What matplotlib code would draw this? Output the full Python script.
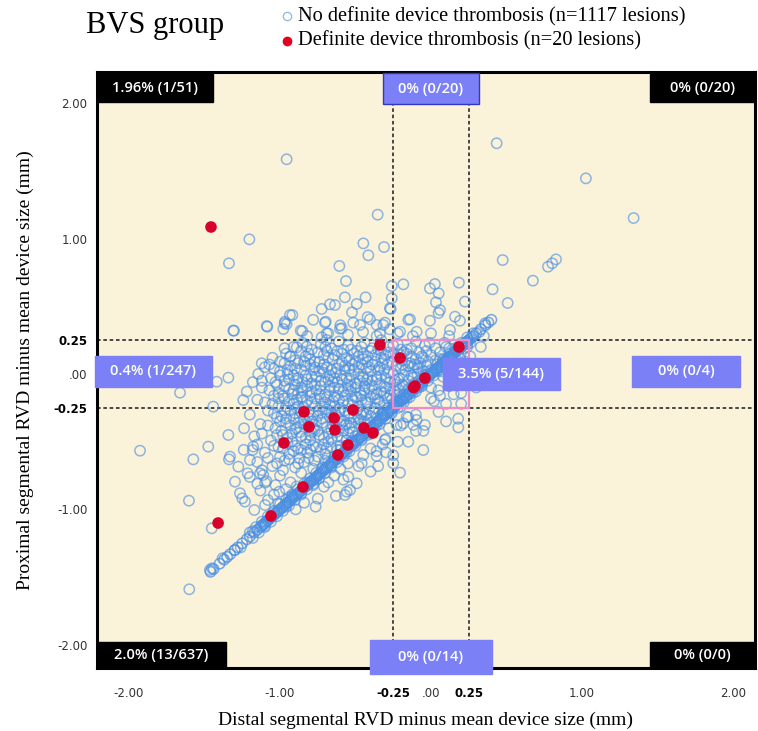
import matplotlib
matplotlib.use("Agg")
import matplotlib.pyplot as plt
from matplotlib.patches import Rectangle
from matplotlib.lines import Line2D

# ---- data (mm) ----
# lesions with definite device thrombosis
red_x = [-1.457, -0.338, -0.205, 0.185, -0.040, -0.106, -0.115, -0.841, -0.642, -0.517,
         -0.808, -0.636, -0.444, -0.384, -0.974, -0.550, -0.616, -0.848, -1.060, -1.410]
red_y = [1.085, 0.214, 0.118, 0.199, -0.030, -0.089, -0.100, -0.280, -0.325, -0.266,
         -0.390, -0.413, -0.398, -0.435, -0.509, -0.524, -0.598, -0.834, -1.048, -1.100]

# lesions where proximal and distal values are the same (the diagonal band)
diag_vals = [-1.46, -1.44, -1.40, -1.37, -1.35, -1.33, -1.30, -1.28, -1.25, -1.22,
             -1.20, -1.17, -1.15, -1.13, -1.11, -1.09, -1.07, -1.05, -1.03, -1.01,
             -0.99, -0.97, -0.95, -0.93, -0.91, -0.89, -0.87, -0.85, -0.83, -0.81,
             -0.79, -0.77, -0.75, -0.73, -0.71, -0.69, -0.67, -0.65, -0.63, -0.61,
             -0.59, -0.57, -0.55, -0.53, -0.51, -0.49, -0.47, -0.45, -0.43, -0.41,
             -0.39, -0.37, -0.35, -0.33, -0.31, -0.29, -0.27, -0.25, -0.23, -0.21,
             -0.19, -0.17, -0.15, -0.13, -0.11, -0.09, -0.07, -0.05, -0.03, -0.01,
             0.01, 0.03, 0.05, 0.07, 0.09, 0.11, 0.13, 0.15, 0.17, 0.19,
             0.21, 0.23, 0.25, 0.27, 0.30, 0.33, 0.36, 0.38, 0.40,
             -1.12, -1.10, -1.08, -1.06, -1.04, -1.02, -1.00, -0.98, -0.96, -0.94,
             -0.92, -0.90, -0.88, -0.86, -0.84, -0.82, -0.80, -0.78, -0.76, -0.74,
             -0.72, -0.70, -0.68, -0.66, -0.64, -0.62, -0.60, -0.58, -0.56, -0.54,
             -0.52, -0.50, -0.48, -0.46, -0.44, -0.42, -0.40, -0.38, -0.36, -0.34,
             -0.32, -0.30, -0.28, -0.26, -0.24, -0.22, -0.20, -0.18, -0.16, -0.14,
             -0.12, -0.10, -0.08, -0.06, -0.04, -0.02, 0.00, 0.02, 0.04, 0.06,
             0.08, 0.10, 0.12, 0.14, 0.16, 0.18, 0.20, 0.22, 0.24, 0.26, 0.28]

# lesions sitting just off the diagonal (they make the band look solid)
near_diag_pts = [
    (-1.38, -1.36), (-1.26, -1.28), (-1.18, -1.16), (-1.10, -1.12), (-1.04, -1.02),
    (-0.96, -0.98), (-0.92, -0.90), (-0.86, -0.88), (-0.82, -0.80), (-0.76, -0.78),
    (-0.72, -0.70), (-0.66, -0.68), (-0.62, -0.60), (-0.56, -0.58), (-0.52, -0.50),
    (-0.46, -0.48), (-0.42, -0.40), (-0.36, -0.38), (-0.32, -0.30), (-0.26, -0.28),
    (-0.22, -0.20), (-0.16, -0.18), (-0.12, -0.10), (-0.06, -0.08), (-0.02, 0.00),
    (0.04, 0.02), (0.08, 0.10), (0.14, 0.12), (0.18, 0.20), (0.24, 0.22),
    (0.28, 0.30), (0.32, 0.31),
    (-1.00, -0.96), (-0.80, -0.77), (-0.60, -0.56), (-0.40, -0.36), (-0.20, -0.17),
    (0.00, 0.03), (-0.90, -0.93), (-0.70, -0.73), (-0.50, -0.53), (-0.30, -0.33),
    (-0.10, -0.13), (0.10, 0.07),
    (-1.20, -1.17), (-1.16, -1.13), (-1.12, -1.09), (-1.08, -1.05), (-1.04, -1.01),
    (-0.96, -0.93), (-0.92, -0.89), (-0.88, -0.85), (-0.84, -0.81), (-0.76, -0.73),
    (-0.72, -0.69), (-0.68, -0.65), (-0.64, -0.61), (-0.56, -0.53), (-0.52, -0.49),
    (-0.48, -0.45), (-0.44, -0.41), (-0.36, -0.33), (-0.32, -0.29), (-0.28, -0.25),
    (-0.24, -0.21), (-0.16, -0.13), (-0.12, -0.09), (-0.08, -0.05), (-0.04, -0.01),
    (0.04, 0.07), (0.08, 0.11), (0.12, 0.15), (0.16, 0.19), (0.20, 0.23), (0.24, 0.27),
    (-1.18, -1.21), (-1.14, -1.17), (-1.10, -1.13), (-1.06, -1.09), (-1.02, -1.05),
    (-0.98, -1.01), (-0.94, -0.97), (-0.86, -0.89), (-0.82, -0.85), (-0.78, -0.81),
    (-0.74, -0.77), (-0.66, -0.69), (-0.62, -0.65), (-0.58, -0.61), (-0.54, -0.57),
    (-0.46, -0.49), (-0.42, -0.45), (-0.38, -0.41), (-0.34, -0.37), (-0.26, -0.29),
    (-0.22, -0.25), (-0.18, -0.21), (-0.14, -0.17), (-0.06, -0.09), (-0.02, -0.05),
    (0.02, -0.01), (0.06, 0.03), (0.14, 0.11), (0.18, 0.15), (0.22, 0.19), (0.26, 0.23),
]

# scattered lesions away from the main cloud
outlier_pts = [
    (-0.956, 1.585), (0.435, 1.703), (1.026, 1.444), (1.342, 1.151), (-0.353, 1.176),
    (-1.203, 0.994), (-1.338, 0.817), (-0.448, 0.964), (-0.311, 0.937), (-0.415, 0.876),
    (-0.607, 0.797), (-0.563, 0.686), (-0.570, 0.566), (-0.433, 0.566), (-0.669, 0.514),
    (-0.724, 0.480), (-0.492, 0.517), (-0.523, 0.455), (-0.918, 0.435), (-1.084, 0.349),
    (-0.969, 0.374), (-0.978, 0.332), (-1.305, 0.320), (-0.852, 0.317), (-0.702, 0.379),
    (-0.404, 0.404), (-0.260, 0.649), (-0.183, 0.662), (-0.260, 0.559), (-0.267, 0.480),
    (-0.007, 0.632), (0.026, 0.664), (0.051, 0.595), (0.033, 0.529), (0.060, 0.472),
    (0.185, 0.674), (0.225, 0.534), (0.408, 0.625), (-0.139, 0.404), (-0.007, 0.393),
    (0.159, 0.423), (0.192, 0.393), (-0.591, 0.337), (-0.515, 0.379), (-0.316, 0.362),
    (-0.338, 0.300), (-0.272, 0.330), (-0.205, 0.312), (-0.095, 0.312), (0.126, 0.325),
    (0.475, 0.841), (0.828, 0.846), (0.803, 0.817), (0.775, 0.792), (0.675, 0.689),
    (0.508, 0.524), (0.358, 0.374), (-0.934, 0.435), (-0.636, 0.509), (-0.603, 0.334),
    (-0.470, 0.362), (-0.360, 0.362), (-0.305, 0.379), (-0.272, 0.485), (-0.697, 0.386),
    (-0.967, 0.386), (-0.863, 0.320), (-0.691, 0.300), (-0.956, 0.369), (-1.088, 0.354),
    (-1.121, 0.079), (-1.144, 0.000), (-1.342, -0.027), (-1.419, -0.057), (-1.309, 0.320),
    (-1.662, -0.138), (-1.442, -0.241), (-1.243, -0.192), (-1.927, -0.566), (-1.574, -0.630),
    (-1.475, -0.536), (-1.603, -0.935), (-1.601, -1.589), (-1.452, -1.139), (-1.464, -1.446),
    (-1.450, -1.434), (-1.342, -0.450), (-1.331, -0.610), (-1.338, -0.630), (-1.276, -0.684),
    (-1.298, -0.795), (-1.265, -0.880), (-1.232, -0.942), (-1.250, -0.918), (-1.170, -1.004),
    (-1.099, -0.967), (-1.214, -0.733), (-1.199, -0.635), (-1.181, -0.561), (-1.238, -0.401),
    (-1.111, -0.745), (-1.099, -0.802), (-1.005, -0.869), (-1.011, -0.954), (-0.896, -0.999),
    (-0.764, -0.979), (-0.709, -0.832), (-0.570, -0.893), (-0.536, -0.856), (-0.492, -0.807),
    (-0.548, -0.758), (-0.298, -0.578), (-0.250, -0.659), (-0.205, -0.728), (-0.051, -0.561),
    (0.181, -0.394), (-0.117, -0.376), (-0.040, -0.376), (-0.459, -0.659), (-0.448, -0.598),
    (-0.360, -0.605), (-0.305, -0.487), (-0.183, -0.364), (-0.095, -0.339), (-0.161, -0.315),
    (-0.227, -0.376), (-0.558, -0.869), (-1.177, -0.536), (-1.132, -0.733), (-0.934, 0.128),
    (-0.889, 0.197), (-0.823, 0.201), (-0.724, 0.271), (-0.691, 0.251), (-1.30, -1.30),
]

# main cloud of lesions
cloud_pts = [
    (-0.91, 0.20), (-0.85, 0.23), (-0.79, 0.18), (-0.73, 0.22), (-0.66, 0.19), (-0.61, 0.24),
    (-0.55, 0.21), (-0.49, 0.17), (-0.44, 0.23), (-0.39, 0.19), (-0.33, 0.25), (-0.28, 0.20),
    (-0.22, 0.22), (-0.16, 0.18), (-0.10, 0.24), (-0.04, 0.21), (0.03, 0.19), (0.09, 0.23),
    (0.16, 0.17), (0.21, 0.22),
    (-1.05, 0.12), (-0.96, 0.15), (-0.90, 0.10), (-0.83, 0.13), (-0.77, 0.09), (-0.71, 0.14),
    (-0.65, 0.11), (-0.59, 0.15), (-0.54, 0.10), (-0.48, 0.13), (-0.42, 0.09), (-0.37, 0.14),
    (-0.31, 0.11), (-0.25, 0.15), (-0.19, 0.10), (-0.13, 0.13), (-0.07, 0.08), (0.00, 0.14),
    (0.06, 0.11), (0.13, 0.15), (0.19, 0.12), (0.26, 0.13),
    (-1.10, 0.05), (-1.00, 0.02), (-0.93, 0.06), (-0.86, 0.03), (-0.80, 0.07), (-0.74, 0.02),
    (-0.69, 0.05), (-0.63, 0.01), (-0.57, 0.06), (-0.51, 0.03), (-0.46, 0.07), (-0.40, 0.02),
    (-0.34, 0.05), (-0.28, 0.01), (-0.23, 0.06), (-0.17, 0.03), (-0.11, 0.07), (-0.05, 0.02),
    (0.04, 0.04), (0.10, 0.07), (0.17, 0.02), (0.24, 0.05),
    (-1.18, -0.06), (-1.06, -0.03), (-0.97, -0.05), (-0.91, -0.01), (-0.85, -0.06), (-0.79, -0.02),
    (-0.73, -0.05), (-0.67, -0.01), (-0.62, -0.06), (-0.56, -0.03), (-0.50, -0.07), (-0.45, -0.02),
    (-0.39, -0.05), (-0.33, -0.01), (-0.27, -0.06), (-0.21, -0.03), (-0.15, -0.05), (-0.09, 0.00),
    (0.08, -0.02), (0.15, -0.05), (0.22, -0.02),
    (-1.22, -0.13), (-1.12, -0.10), (-1.01, -0.14), (-0.94, -0.11), (-0.88, -0.14), (-0.82, -0.09),
    (-0.76, -0.12), (-0.70, -0.15), (-0.64, -0.10), (-0.58, -0.13), (-0.53, -0.09), (-0.47, -0.14),
    (-0.41, -0.11), (-0.36, -0.15), (-0.30, -0.10), (-0.24, -0.13), (-0.18, -0.09), (-0.12, -0.14),
    (0.05, -0.12), (0.12, -0.09), (0.20, -0.14),
    (-1.15, -0.19), (-1.05, -0.22), (-0.97, -0.18), (-0.91, -0.22), (-0.85, -0.17), (-0.79, -0.21),
    (-0.73, -0.18), (-0.67, -0.23), (-0.61, -0.19), (-0.55, -0.22), (-0.49, -0.17), (-0.43, -0.21),
    (-0.37, -0.18), (-0.31, -0.23), (-0.26, -0.19), (-0.20, -0.24), (0.02, -0.20), (0.10, -0.22),
    (-1.20, -0.30), (-1.08, -0.27), (-0.99, -0.31), (-0.93, -0.27), (-0.87, -0.32), (-0.81, -0.28),
    (-0.75, -0.31), (-0.69, -0.26), (-0.63, -0.30), (-0.57, -0.27), (-0.51, -0.32), (-0.45, -0.28),
    (-0.40, -0.31), (-0.10, -0.30), (0.05, -0.28), (0.18, -0.33),
    (-1.13, -0.37), (-1.03, -0.40), (-0.96, -0.36), (-0.90, -0.41), (-0.84, -0.37), (-0.78, -0.40),
    (-0.72, -0.36), (-0.66, -0.41), (-0.60, -0.37), (-0.54, -0.40), (-0.48, -0.36), (-0.43, -0.41),
    (-0.20, -0.38), (-0.05, -0.42),
    (-1.17, -0.46), (-1.06, -0.49), (-0.98, -0.45), (-0.92, -0.50), (-0.86, -0.46), (-0.80, -0.49),
    (-0.74, -0.45), (-0.68, -0.50), (-0.62, -0.46), (-0.56, -0.49), (-0.51, -0.52), (-0.30, -0.48),
    (-0.15, -0.50),
    (-1.24, -0.56), (-1.10, -0.58), (-1.01, -0.54), (-0.94, -0.59), (-0.88, -0.55), (-0.82, -0.58),
    (-0.76, -0.54), (-0.70, -0.59), (-0.64, -0.62), (-0.36, -0.57), (-0.25, -0.60),
    (-1.15, -0.65), (-1.05, -0.68), (-0.97, -0.64), (-0.90, -0.69), (-0.84, -0.65), (-0.78, -0.70),
    (-0.60, -0.70), (-0.48, -0.68), (-0.40, -0.72),
    (-1.20, -0.76), (-1.09, -0.79), (-1.00, -0.75), (-0.93, -0.80), (-0.68, -0.80), (-0.58, -0.78),
    (-1.13, -0.86), (-1.04, -0.89), (-0.96, -0.85), (-0.75, -0.92), (-0.63, -0.90),
    # second, denser layer in the middle
    (-0.75, 0.16), (-0.62, 0.17), (-0.51, 0.15), (-0.40, 0.17), (-0.28, 0.16), (-0.16, 0.15),
    (-0.03, 0.17),
    (-0.88, 0.08), (-0.74, 0.09), (-0.61, 0.07), (-0.50, 0.09), (-0.39, 0.07), (-0.26, 0.09),
    (-0.14, 0.08), (-0.02, 0.09), (0.12, 0.08),
    (-0.95, 0.00), (-0.83, -0.01), (-0.71, 0.01), (-0.60, -0.01), (-0.48, 0.00), (-0.36, -0.02),
    (-0.25, 0.00), (-0.13, -0.01),
    (-1.02, -0.08), (-0.90, -0.08), (-0.79, -0.07), (-0.67, -0.09), (-0.55, -0.08), (-0.43, -0.07),
    (-0.31, -0.09), (-0.19, -0.08),
    (-0.98, -0.16), (-0.86, -0.17), (-0.74, -0.15), (-0.62, -0.16), (-0.50, -0.17), (-0.38, -0.15),
    (-0.27, -0.16),
    (-0.96, -0.24), (-0.84, -0.25), (-0.72, -0.24), (-0.60, -0.25), (-0.48, -0.24), (-0.37, -0.25),
    (-0.96, -0.33), (-0.84, -0.34), (-0.72, -0.33), (-0.60, -0.34), (-0.48, -0.33),
    (-0.99, -0.42), (-0.87, -0.43), (-0.75, -0.42), (-0.63, -0.43), (-0.52, -0.43),
    (-0.95, -0.51), (-0.83, -0.52), (-0.71, -0.52), (-0.60, -0.53),
    (-1.00, -0.61), (-0.87, -0.62), (-0.75, -0.61),
    (-0.68, -0.04), (-0.57, 0.03), (-0.45, -0.03), (-0.35, 0.03), (-0.22, -0.04), (-0.65, -0.20),
    (-0.53, -0.13), (-0.42, -0.21), (-0.31, -0.14), (-0.20, -0.19), (-0.70, -0.28), (-0.58, -0.35),
    (-0.46, -0.30), (-0.80, -0.45), (-0.66, -0.48), (-0.55, -0.44), (-0.80, -0.33), (-0.88, -0.24),
    (-0.78, 0.03), (-0.85, -0.12),
    # third layer
    (-0.82, 0.28), (-0.68, 0.30), (-0.55, 0.29), (-0.45, 0.31), (-0.36, 0.28), (-0.22, 0.30),
    (-0.12, 0.28), (0.00, 0.30), (0.12, 0.28), (-0.60, 0.36), (-0.42, 0.42), (-0.15, 0.40),
    (0.05, 0.45), (-0.78, 0.40),
    (-0.97, 0.19), (-0.70, 0.20), (-0.58, 0.18), (-0.46, 0.20), (-0.35, 0.18), (-0.25, 0.21),
    (-0.13, 0.19), (-0.01, 0.23), (0.12, 0.19), (0.24, 0.20),
    (-1.00, 0.09), (-0.80, 0.11), (-0.68, 0.12), (-0.56, 0.12), (-0.45, 0.11), (-0.33, 0.12),
    (-0.22, 0.12), (-0.10, 0.11), (0.03, 0.10), (0.16, 0.12), (0.23, 0.09),
    (-1.04, 0.04), (-0.90, 0.04), (-0.77, 0.05), (-0.66, 0.03), (-0.54, 0.04), (-0.43, 0.04),
    (-0.31, 0.03), (-0.20, 0.04), (-0.08, 0.04), (0.07, 0.05), (0.20, 0.03),
    (-1.12, -0.05), (-0.94, -0.04), (-0.82, -0.04), (-0.70, -0.06), (-0.59, -0.04), (-0.47, -0.05),
    (-0.36, -0.04), (-0.24, -0.05), (-0.12, -0.03), (0.12, -0.06), (0.19, -0.08),
    (-1.07, -0.12), (-0.91, -0.12), (-0.79, -0.13), (-0.67, -0.12), (-0.55, -0.11), (-0.44, -0.12),
    (-0.33, -0.13), (-0.21, -0.12), (0.00, -0.10), (0.15, -0.15),
    (-1.10, -0.21), (-0.94, -0.20), (-0.82, -0.20), (-0.70, -0.21), (-0.58, -0.20), (-0.46, -0.19),
    (-0.34, -0.21), (-0.23, -0.21), (0.06, -0.16), (0.20, -0.22),
    (-1.04, -0.29), (-0.90, -0.29), (-0.78, -0.30), (-0.66, -0.29), (-0.54, -0.29), (-0.43, -0.30),
    (-0.33, -0.30), (-0.15, -0.32), (0.10, -0.35),
    (-1.08, -0.38), (-0.93, -0.38), (-0.81, -0.38), (-0.69, -0.39), (-0.57, -0.38), (-0.46, -0.39),
    (-0.40, -0.44), (-0.28, -0.40), (-0.10, -0.42),
    (-1.12, -0.44), (-0.95, -0.47), (-0.83, -0.47), (-0.71, -0.47), (-0.59, -0.47), (-0.50, -0.46),
    (-0.22, -0.50),
    (-1.15, -0.52), (-0.98, -0.55), (-0.86, -0.56), (-0.73, -0.56), (-0.62, -0.56), (-0.40, -0.55),
    (-0.32, -0.52),
    (-1.08, -0.62), (-0.94, -0.63), (-0.81, -0.62), (-0.70, -0.64), (-0.55, -0.66), (-0.35, -0.68),
    (-1.12, -0.71), (-0.98, -0.71), (-0.86, -0.73), (-0.74, -0.74), (-0.64, -0.75),
    (-1.15, -0.81), (-1.03, -0.82), (-0.89, -0.83), (-0.78, -0.82),
    (-1.08, -0.93), (-0.94, -0.91), (-0.84, -0.95),
    # fourth layer, the busiest part of the cloud
    (-0.86, 0.17), (-0.69, 0.17), (-0.45, 0.15), (-0.33, 0.17), (-0.20, 0.14), (-0.08, 0.16),
    (0.06, 0.16),
    (-0.97, 0.08), (-0.83, 0.06), (-0.71, 0.07), (-0.59, 0.09), (-0.48, 0.05), (-0.37, 0.09),
    (-0.29, 0.07), (-0.15, 0.06), (-0.03, 0.06), (0.14, 0.04),
    (-1.00, -0.01), (-0.88, -0.03), (-0.76, -0.02), (-0.64, -0.03), (-0.53, -0.01), (-0.42, -0.04),
    (-0.30, -0.03), (-0.18, -0.01), (-0.06, -0.04),
    (-0.97, -0.09), (-0.86, -0.10), (-0.73, -0.09), (-0.61, -0.11), (-0.50, -0.10), (-0.39, -0.09),
    (-0.27, -0.11), (-0.15, -0.11),
    (-1.01, -0.18), (-0.89, -0.19), (-0.77, -0.18), (-0.64, -0.17), (-0.52, -0.19), (-0.40, -0.17),
    (-0.29, -0.18), (-0.23, -0.16),
    (-0.97, -0.27), (-0.86, -0.28), (-0.74, -0.27), (-0.61, -0.28), (-0.49, -0.27), (-0.38, -0.28),
    (-0.31, -0.27),
    (-1.00, -0.35), (-0.88, -0.36), (-0.76, -0.35), (-0.64, -0.35), (-0.53, -0.36), (-0.44, -0.35),
    (-0.92, -0.44), (-0.79, -0.43), (-0.68, -0.44), (-0.58, -0.42),
    (-0.90, -0.53), (-0.78, -0.53), (-0.66, -0.54),
    # fifth layer
    (-0.93, 0.13), (-0.81, 0.15), (-0.64, 0.14), (-0.53, 0.18), (-0.42, 0.13), (-0.30, 0.14),
    (-0.18, 0.16), (-0.06, 0.13),
    (-1.07, 0.07), (-0.95, 0.03), (-0.84, 0.09), (-0.72, 0.04), (-0.62, 0.04), (-0.52, 0.07),
    (-0.41, 0.05), (-0.32, 0.08), (-0.19, 0.07), (-0.09, 0.05),
    (-1.03, -0.06), (-0.89, -0.05), (-0.77, -0.08), (-0.65, -0.06), (-0.54, -0.05), (-0.44, -0.09),
    (-0.34, -0.07), (-0.23, -0.08), (-0.11, -0.07),
    (-1.04, -0.16), (-0.92, -0.15), (-0.80, -0.16), (-0.69, -0.17), (-0.57, -0.16), (-0.46, -0.16),
    (-0.35, -0.19), (-0.25, -0.22),
    (-1.01, -0.24), (-0.89, -0.25), (-0.77, -0.24), (-0.64, -0.24), (-0.52, -0.23), (-0.41, -0.26),
    (-1.02, -0.32), (-0.91, -0.33), (-0.79, -0.35), (-0.67, -0.32), (-0.55, -0.31), (-0.47, -0.34),
    (-1.02, -0.45), (-0.89, -0.40), (-0.77, -0.41), (-0.65, -0.38), (-0.56, -0.37),
    (-1.04, -0.53), (-0.91, -0.57), (-0.80, -0.56), (-0.69, -0.55),
    (-1.02, -0.66), (-0.88, -0.66), (-0.77, -0.64),
    # inside the central box and just right of it
    (-0.20, 0.18), (-0.12, 0.05), (-0.08, -0.10), (0.00, -0.18), (0.07, 0.02), (0.14, 0.10),
    (0.18, -0.05), (-0.18, -0.15), (0.10, 0.20), (-0.05, 0.12), (0.20, 0.05), (0.28, 0.05),
    (0.30, -0.10), (0.33, 0.20), (0.35, 0.28),
]

cut_lines = [-0.25, 0.25]
xtick_vals = [-2.0, -1.0, -0.25, 0.0, 0.25, 1.0, 2.0]
xtick_text = ['-2.00', '-1.00', '-0.25', '.00', '0.25', '1.00', '2.00']
ytick_vals = [-2.0, -1.0, -0.25, 0.0, 0.25, 1.0, 2.0]
ytick_text = ['-2.00', '-1.00', '-0.25', '.00', '0.25', '1.00', '2.00']

quad_labels = ['1.96% (1/51)', '0% (0/20)', '0% (0/20)',
               '0.4% (1/247)', '3.5% (5/144)', '0% (0/4)',
               '2.0% (13/637)', '0% (0/14)', '0% (0/0)']
quad_is_dark = [True, False, True, False, False, False, True, False, True]

W, H = 758, 731
fig = plt.figure(figsize=(W / 100, H / 100), dpi=100)
ax = fig.add_axes([97 / W, 1 - 668 / H, (755 - 97) / W, (668 - 72) / H])
ax.set_facecolor('#faf2d9')
ax.set_xlim(-2.212, 2.146)
ax.set_ylim(-2.170, 2.229)

# cut-off lines and the pink central box
for v in cut_lines:
    ax.axvline(v, color='#3a3a3a', lw=1.3, ls=(0, (2, 1.5)), zorder=1)
    ax.axhline(v, color='#3a3a3a', lw=1.3, ls=(0, (2, 1.5)), zorder=1)
ax.add_patch(Rectangle((-0.25, -0.25), 0.5, 0.5, fill=False, ec='#f08ac8', lw=1.6, zorder=4))

blue = '#4a8fe3'
all_pts = outlier_pts + cloud_pts + near_diag_pts
ax.scatter([p[0] for p in all_pts], [p[1] for p in all_pts], s=55, facecolors='none',
           edgecolors=blue, linewidths=1.1, alpha=0.62, zorder=2)
ax.scatter(diag_vals, diag_vals, s=55, facecolors='none', edgecolors=blue,
           linewidths=1.1, alpha=0.75, zorder=2)
ax.scatter(red_x, red_y, s=70, color='#d8002d', edgecolors='none', zorder=5)

# ticks
ax.set_xticks(xtick_vals)
ax.set_xticklabels(xtick_text)
ax.set_yticks(ytick_vals)
ax.set_yticklabels(ytick_text)
ax.tick_params(length=0, labelsize=8.5, labelcolor='#333333')
ax.tick_params(axis='x', pad=14)
ax.tick_params(axis='y', pad=7)
for lab in ax.get_xticklabels() + ax.get_yticklabels():
    if lab.get_text() in ('-0.25', '0.25'):
        lab.set_fontweight('bold')
        lab.set_color('black')
for sp in ax.spines.values():
    sp.set_linewidth(2.2)
    sp.set_color('black')

ax.set_xlabel('Distal segmental RVD minus mean device size (mm)',
              family='Liberation Serif', fontsize=14, labelpad=8)
ax.set_ylabel('Proximal segmental RVD minus mean device size (mm)',
              family='Liberation Serif', fontsize=14, labelpad=14)

# percentage boxes, placed in figure pixels
box_px = [(97, 74, 213, 102), (383, 73, 479, 104), (650, 74, 755, 102),
          (95, 356, 212, 387), (443, 358, 560, 390), (632, 356, 740, 387),
          (97, 642, 226, 668), (370, 640, 492, 674), (650, 642, 755, 668)]
for (x0, y0, x1, y1), txt, dark in zip(box_px, quad_labels, quad_is_dark):
    fc = 'black' if dark else '#7b80f6'
    ec = '#3436c8' if txt == '0% (0/20)' and not dark else fc
    fig.add_artist(Rectangle((x0 / W, 1 - y1 / H), (x1 - x0) / W, (y1 - y0) / H,
                             transform=fig.transFigure, fc=fc, ec=ec, lw=1, zorder=10))
    fig.text((x0 + x1) / 2 / W, 1 - (y0 + y1) / 2 / H, txt, color='white',
             family='Open Sans', weight='semibold', fontsize=10.5,
             ha='center', va='center', zorder=11)

# title and legend
fig.text(86 / W, 1 - 33 / H, 'BVS group', family='Liberation Serif', fontsize=22,
         va='baseline', ha='left')
fig.add_artist(Line2D([287 / W], [1 - 16 / H], marker='o', ms=6, mfc='none',
                      mec='#8fb5e8', mew=0.9, transform=fig.transFigure))
fig.add_artist(Line2D([287 / W], [1 - 41 / H], marker='o', ms=7, mfc='#e00020',
                      mec='none', transform=fig.transFigure))
fig.text(298 / W, 1 - 21 / H, 'No definite device thrombosis (n=1117 lesions)',
         family='Liberation Serif', fontsize=14.7, va='baseline', ha='left')
fig.text(298 / W, 1 - 45 / H, 'Definite device thrombosis (n=20 lesions)',
         family='Liberation Serif', fontsize=14.7, va='baseline', ha='left')

fig.savefig('out.png', dpi=100)
